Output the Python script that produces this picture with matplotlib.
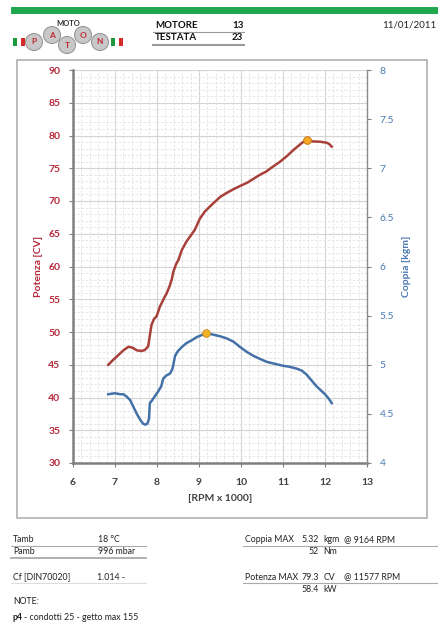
import matplotlib
matplotlib.use("Agg")
import matplotlib.pyplot as plt
from matplotlib.patches import Rectangle, Circle
from matplotlib.ticker import MultipleLocator

plt.rcParams['font.family'] = ['Lato', 'DejaVu Sans']

# ---- data ----
rpm_power = [6.84, 6.95, 7.1, 7.2, 7.32, 7.42, 7.52, 7.63, 7.71, 7.79, 7.83, 7.87, 7.93, 7.99,
             8.07, 8.11, 8.17, 8.23, 8.3, 8.35, 8.39, 8.45, 8.51, 8.59, 8.7, 8.8, 8.9, 9.02,
             9.14, 9.25, 9.34, 9.5, 9.65, 9.82, 9.98, 10.15, 10.3, 10.45, 10.6, 10.75, 10.93,
             11.1, 11.25, 11.4, 11.5, 11.577, 11.7, 11.88, 12.04, 12.1, 12.16]
power_cv = [45.0, 45.7, 46.6, 47.2, 47.75, 47.6, 47.2, 47.1, 47.25, 47.8, 49.5, 51.1, 52.0, 52.4,
            53.9, 54.4, 55.2, 55.9, 57.0, 58.0, 59.2, 60.3, 61.0, 62.5, 63.8, 64.7, 65.6, 67.3,
            68.4, 69.1, 69.65, 70.6, 71.2, 71.8, 72.3, 72.8, 73.4, 74.0, 74.5, 75.2, 76.0,
            76.9, 77.8, 78.6, 79.1, 79.3, 79.1, 79.05, 78.9, 78.7, 78.3]

rpm_torque = [6.84, 7.0, 7.12, 7.2, 7.28, 7.36, 7.44, 7.52, 7.6, 7.67, 7.72, 7.77, 7.81, 7.83,
              7.87, 7.95, 8.03, 8.1, 8.15, 8.22, 8.31, 8.37, 8.43, 8.5, 8.59, 8.7, 8.83, 8.94,
              9.05, 9.164, 9.3, 9.5, 9.65, 9.82, 9.98, 10.14, 10.3, 10.45, 10.61, 10.8, 11.0,
              11.15, 11.33, 11.45, 11.56, 11.68, 11.80, 11.9, 12.0, 12.08, 12.16]
torque_kgm = [4.70, 4.71, 4.70, 4.70, 4.675, 4.64, 4.57, 4.50, 4.44, 4.40, 4.39, 4.40, 4.45, 4.61,
              4.63, 4.68, 4.73, 4.78, 4.86, 4.89, 4.91, 4.96, 5.09, 5.14, 5.18, 5.22, 5.25, 5.28,
              5.30, 5.32, 5.31, 5.29, 5.27, 5.235, 5.18, 5.13, 5.09, 5.06, 5.03, 5.01, 4.99,
              4.98, 4.96, 4.94, 4.90, 4.84, 4.78, 4.74, 4.70, 4.66, 4.61]

power_max = (11.577, 79.3)
torque_max = (9.164, 5.32)

x_ticks = [6, 7, 8, 9, 10, 11, 12, 13]
left_ticks = [30, 35, 40, 45, 50, 55, 60, 65, 70, 75, 80, 85, 90]
right_ticks = [4, 4.5, 5, 5.5, 6, 6.5, 7, 7.5, 8]

RED = '#b5283a'
BLUE = '#4a78b0'
LINE_RED = '#a8403a'
LINE_BLUE = '#4471a8'

W, H = 439, 623
fig = plt.figure(figsize=(W / 100, H / 100), dpi=100)

# overlay in pixel coordinates
ov = fig.add_axes([0, 0, 1, 1])
ov.set_xlim(0, W)
ov.set_ylim(H, 0)
ov.axis('off')

# top green bar
ov.add_patch(Rectangle((11, 7), W - 11, 6.5, color='#1fa84f', lw=0))
# chart frame
ov.add_patch(Rectangle((17, 60), 410, 458, fill=False, ec='#b0b0b0', lw=1.2))

# logo
ov.text(68, 23, 'MOTO', fontsize=5.5, fontweight='bold', ha='center', va='center', color='#333333')
for (x0, col) in [(13, '#1a9a3c'), (17, '#ffffff'), (21, '#d42a2a')]:
    ov.add_patch(Rectangle((x0, 38), 4, 8, color=col, lw=0))
for (x0, col) in [(111, '#1a9a3c'), (115, '#ffffff'), (119, '#d42a2a')]:
    ov.add_patch(Rectangle((x0, 38), 4, 8, color=col, lw=0))
for (cx, cy, ch) in [(34, 42, 'P'), (52, 35, 'A'), (67, 45, 'T'), (83, 35, 'O'), (100, 42, 'N')]:
    ov.add_patch(Circle((cx, cy), 8.5, fc='#c8c8c8', ec='#999999', lw=0.8))
    ov.text(cx, cy, ch, fontsize=6, fontweight='bold', ha='center', va='center', color='#c0282f')

# header table
ov.text(155, 25, 'MOTORE', fontsize=7, fontweight='bold', va='center', color='#111111')
ov.text(232, 25, '13', fontsize=7, fontweight='bold', va='center', color='#111111')
ov.text(155, 38, 'TESTATA', fontsize=7, fontweight='bold', va='center', color='#111111')
ov.text(232, 38, '23', fontsize=7, fontweight='bold', va='center', color='#111111')
ov.plot([153, 244], [31.5, 31.5], color='#999999', lw=0.8)
ov.plot([153, 244], [44.5, 44.5], color='#999999', lw=1.5)
ov.text(436, 25, '11/01/2011', fontsize=7, ha='right', va='center', color='#222222')

# footer
fs = 6.3
ov.text(13, 540, 'Tamb', fontsize=fs, va='center', color='#222222')
ov.text(120, 540, '18 °C', fontsize=fs, ha='right', va='center', color='#222222')
ov.plot([11, 146], [546, 546], color='#aaaaaa', lw=0.8)
ov.text(13, 551, 'Pamb', fontsize=fs, va='center', color='#222222')
ov.text(135, 551, '996 mbar', fontsize=fs, ha='right', va='center', color='#222222')
ov.plot([11, 146], [557.5, 557.5], color='#aaaaaa', lw=1.3)
ov.text(13, 577, 'Cf [DIN70020]', fontsize=fs, va='center', color='#222222')
ov.text(97, 577, '1.014 -', fontsize=fs, va='center', color='#222222')
ov.plot([11, 146], [583, 583], color='#dddddd', lw=0.8)
ov.text(13, 602, 'NOTE:', fontsize=fs, va='center', color='#222222')
ov.text(13, 617, 'p4', fontsize=fs, fontweight='bold', va='center', color='#222222')
ov.text(24, 617, '- condotti 25 - getto max 155', fontsize=fs, va='center', color='#222222')

ov.text(245, 540, 'Coppia MAX', fontsize=fs, va='center', color='#222222')
ov.text(319, 540, '5.32', fontsize=fs, ha='right', va='center', color='#222222')
ov.text(323, 540, 'kgm', fontsize=fs, va='center', color='#222222')
ov.text(344, 540, '@ 9164 RPM', fontsize=fs, va='center', color='#222222')
ov.plot([243, 439], [546, 546], color='#aaaaaa', lw=0.8)
ov.text(319, 551, '52', fontsize=fs, ha='right', va='center', color='#222222')
ov.text(323, 551, 'Nm', fontsize=fs, va='center', color='#222222')
ov.text(245, 577, 'Potenza MAX', fontsize=fs, va='center', color='#222222')
ov.text(319, 577, '79.3', fontsize=fs, ha='right', va='center', color='#222222')
ov.text(324, 577, 'CV', fontsize=fs, va='center', color='#222222')
ov.text(344, 577, '@ 11577 RPM', fontsize=fs, va='center', color='#222222')
ov.plot([243, 439], [583, 583], color='#aaaaaa', lw=0.8)
ov.text(319, 590, '58.4', fontsize=fs, ha='right', va='center', color='#222222')
ov.text(323, 590, 'kW', fontsize=fs, va='center', color='#222222')

# ---- main chart ----
ax = fig.add_axes([73 / W, 1 - 463 / H, (367 - 73) / W, (463 - 70) / H])
ax.set_facecolor('white')
ax.set_xlim(6, 13)
ax.set_ylim(30, 90)
ax.xaxis.set_major_locator(MultipleLocator(1))
ax.xaxis.set_minor_locator(MultipleLocator(0.2))
ax.yaxis.set_major_locator(MultipleLocator(5))
ax.yaxis.set_minor_locator(MultipleLocator(1))
ax.grid(which='minor', color='#e2e2e2', lw=0.6, ls=(0, (3, 2)))
ax.grid(which='major', color='#d4d4d4', lw=0.8)
ax.set_axisbelow(True)
ax.tick_params(which='minor', length=0)
ax.set_xticks(x_ticks)
ax.set_yticks(left_ticks)
ax.tick_params(axis='x', length=3, color='#808080', labelsize=7.5, labelcolor='#404040', pad=8)
ax.tick_params(axis='y', length=3, color='#808080', labelsize=7.5, labelcolor=RED, pad=6)
for lab in ax.get_xticklabels() + ax.get_yticklabels():
    lab.set_fontweight('bold')
for s in ['top', 'right']:
    ax.spines[s].set_visible(False)
for s in ['left', 'bottom']:
    ax.spines[s].set_color('#7f7f7f')
    ax.spines[s].set_linewidth(1.8)
ax.set_ylabel('Potenza [CV]', color=RED, fontsize=7.5, fontweight='bold', labelpad=4)
ax.set_xlabel('[RPM x 1000]', color='#404040', fontsize=7.5, fontweight='bold', labelpad=5)

ax.plot(rpm_power, power_cv, color=LINE_RED, lw=1.8, zorder=3)
ax.plot([power_max[0]], [power_max[1]], 'o', ms=5.5, mfc='#f7a823', mec='#c87810', mew=0.7, zorder=4)

ax2 = ax.twinx()
ax2.set_ylim(4, 8)
ax2.set_yticks(right_ticks)
ax2.set_yticklabels(['4', '4.5', '5', '5.5', '6', '6.5', '7', '7.5', '8'])
ax2.tick_params(axis='y', length=3, color='#808080', labelsize=7.5, labelcolor=BLUE, pad=6)
for s in ['top', 'left', 'bottom']:
    ax2.spines[s].set_visible(False)
ax2.spines['right'].set_color('#8c8c8c')
ax2.spines['right'].set_linewidth(1.0)
ax2.set_ylabel('Coppia [kgm]', color=BLUE, fontsize=7.5, fontweight='bold', labelpad=6)
ax2.plot(rpm_torque, torque_kgm, color=LINE_BLUE, lw=1.8, zorder=3)
ax2.plot([torque_max[0]], [torque_max[1]], 'o', ms=5.5, mfc='#f2b32a', mec='#c8901a', mew=0.7, zorder=4)

fig.savefig('out.png', dpi=100)
